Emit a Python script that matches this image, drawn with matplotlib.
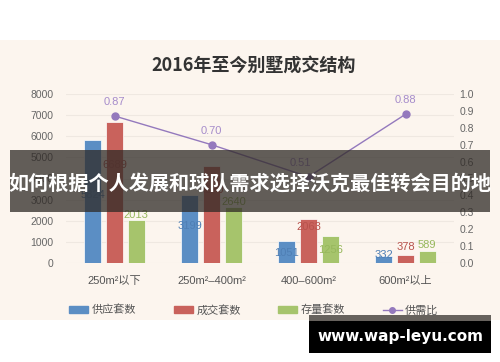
#coding:utf-8
import numpy as np
import matplotlib
matplotlib.use('Agg')
import matplotlib.pyplot as plt
import matplotlib.patches as patches
from matplotlib.lines import Line2D

plt.rcParams['font.family'] = ['Liberation Sans', 'Noto Sans CJK SC', 'DejaVu Sans']

# data
categories = ['250m²以下', '250m²–400m²', '400–600m²', '600m²以上']
supply = [5824, 3199, 1051, 332]
deal = [6689, 4570, 2063, 378]
stock = [2013, 2640, 1256, 589]
ratio = [0.87, 0.70, 0.51, 0.88]
left_ticks = [0, 1000, 2000, 3000, 4000, 5000, 6000, 7000, 8000]
right_ticks = [0.0, 0.1, 0.2, 0.3, 0.4, 0.5, 0.6, 0.7, 0.8, 0.9, 1.0]
# where the value labels sit (left axis units), as seen in the picture
supply_lab_y = [3220, 1750, 470, 380]
deal_lab_y = [4640, 3460, 1700, 760]
stock_lab_y = [2270, 2890, 620, 850]

BLUE = '#5b8ec4'
RED = '#c9625c'
GREEN = '#a6c46c'
PURPLE = '#9479bd'
CREAM = '#fcf5ee'

fig = plt.figure(figsize=(5, 3.62), dpi=100)
fig.patch.set_facecolor('white')
# cream panel
fig.add_artist(patches.Rectangle((0, 1 - 320/362), 1, (320-40)/362, transform=fig.transFigure,
                                 facecolor=CREAM, edgecolor='none', zorder=0))

ax = fig.add_axes([66/500, 1 - 263/362, 388/500, 169/362])
ax.set_facecolor('none')
x = np.arange(len(categories))
w = 0.178
off = 0.225
ax.bar(x - off, supply, w, color=BLUE, edgecolor='white', linewidth=0.5, zorder=2)
ax.bar(x, deal, w, color=RED, edgecolor='white', linewidth=0.5, zorder=2)
ax.bar(x + off, stock, w, color=GREEN, edgecolor='white', linewidth=0.5, zorder=2)

for i in range(len(categories)):
    ax.text(x[i] - off, supply_lab_y[i], str(supply[i]), color='#4f7fb5', fontsize=8, ha='center', va='center', zorder=3)
    ax.text(x[i], deal_lab_y[i], str(deal[i]), color='#b8524c', fontsize=8, ha='center', va='center', zorder=3)
    ax.text(x[i] + off, stock_lab_y[i], str(stock[i]), color='#97b85c', fontsize=8, ha='center', va='center', zorder=3)

ax.set_ylim(0, 8000)
ax.set_xlim(-0.5, len(categories) - 0.5)
ax.set_yticks(left_ticks)
ax.set_xticks(x)
ax.set_xticklabels(categories)
ax.grid(axis='y', color='#efe8e1', linewidth=0.8, zorder=0)
for s in ax.spines.values():
    s.set_visible(False)
ax.tick_params(axis='y', length=0, pad=9, labelsize=7.5, labelcolor='#666666')
ax.tick_params(axis='x', length=0, pad=9, labelsize=8, labelcolor='#555555')

ax2 = ax.twinx()
ax2.plot(x, ratio, color=PURPLE, lw=1, marker='o', ms=5, zorder=4)
for i, r in enumerate(ratio):
    dx = -6 if i == 2 else 0
    ax2.annotate('%.2f' % r, (x[i], r), xytext=(dx, 10), textcoords='offset points',
                 ha='center', va='center', color='#a68ccb', fontsize=8)
ax2.set_ylim(0, 1.0)
ax2.set_yticks(right_ticks)
ax2.set_yticklabels(['%.1f' % t for t in right_ticks])
for s in ax2.spines.values():
    s.set_visible(False)
ax2.tick_params(axis='y', length=0, pad=4, labelsize=7.5, labelcolor='#666666')

fig.text(254/500, 1 - 65/362, '2016年至今别墅成交结构', ha='center', va='center',
         fontsize=13, fontweight='bold', color='#333333', family=['Noto Sans CJK SC'])

handles = [patches.Patch(color=BLUE), patches.Patch(color=RED), patches.Patch(color=GREEN),
           Line2D([0], [0], color=PURPLE, lw=1, marker='o', ms=4)]
leg = fig.legend(handles, ['供应套数', '成交套数', '存量套数', '供需比'], ncol=4,
                 loc='center', bbox_to_anchor=(254/500, 1 - 310/362), frameon=False,
                 fontsize=8, handlelength=1.7, handleheight=0.6, handletextpad=0.3, columnspacing=3.4)
for t in leg.get_texts():
    t.set_color('#555555')

# overlay banner
fig.add_artist(patches.Rectangle((10/500, 1 - 212/362), 480/500, 62/362, transform=fig.transFigure,
                                 facecolor='#2f2a26', alpha=0.75, edgecolor='none', zorder=10))
fig.text(250/500, 1 - 183/362, '如何根据个人发展和球队需求选择沃克最佳转会目的地', ha='center', va='center',
         fontsize=14.5, fontweight='bold', color='white', family=['Noto Sans CJK SC'], zorder=11)

# watermark
fig.add_artist(patches.Rectangle((309/500, 1 - 321/362), 182/500, 6/362, transform=fig.transFigure,
                                 facecolor='#67625d', edgecolor='none', zorder=10))
fig.add_artist(patches.Rectangle((309/500, 1 - 353/362), 182/500, 32/362, transform=fig.transFigure,
                                 facecolor='black', edgecolor='none', zorder=10))
fig.text(400/500, 1 - 337/362, 'www.wap-leyu.com', ha='center', va='center',
         fontsize=11, fontweight='bold', color='white', family=['DejaVu Sans'], zorder=11)

fig.savefig('out.png', dpi=100)
